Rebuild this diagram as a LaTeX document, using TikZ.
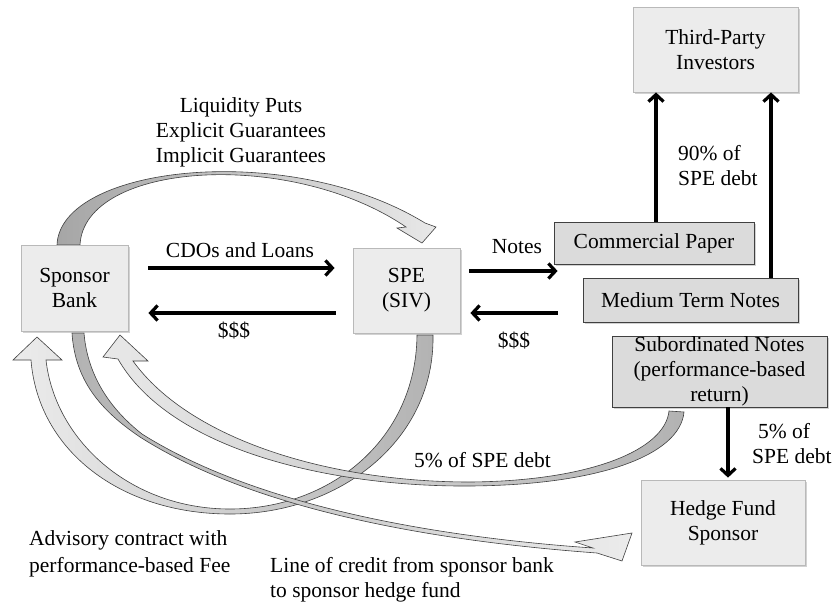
\documentclass[tikz,border=0pt]{standalone}
\usepackage{fontspec}
\setmainfont{Liberation Serif}
\usetikzlibrary{arrows.meta,shadows,backgrounds}
\begin{document}
\begin{tikzpicture}[x=1pt,y=-1pt,
  txt/.style={font=\fontsize{21.5}{24.8}\selectfont, inner sep=0pt},
  shd/.style={drop shadow={shadow xshift=1.5pt,shadow yshift=-1.5pt,fill=gray!70,opacity=0.5}},
  lbox/.style={txt, draw=gray!55, fill=gray!15, line width=0.8pt, align=center, shd},
  dbox/.style={txt, draw=black!75, fill=gray!28, line width=0.8pt, align=center, shd},
  arr/.style={line width=3.2pt, -{Straight Barb[length=7pt,width=15pt]}},
  band/.style={draw=black!75, line width=0.6pt}]
\useasboundingbox (0,0) rectangle (838,603);

% boxes
\node[lbox, minimum width=107pt, minimum height=86pt] (sb) at (74.5,288) {Sponsor\\Bank};
\node[lbox, minimum width=107pt, minimum height=85pt] (spe) at (406.5,290.5) {SPE\\(SIV)};
\node[dbox, minimum width=200pt, minimum height=42pt] (cp) at (654,243) {Commercial Paper};
\node[dbox, minimum width=215pt, minimum height=44pt] (mtn) at (690.5,300) {Medium Term Notes};
\node[lbox, minimum width=165pt, minimum height=85pt] (tpi) at (715.5,49.5) {Third-Party\\Investors};
\node[dbox, minimum width=215pt, minimum height=71pt] (sub) at (719.5,371.5) {Subordinated Notes\\(performance-based\\return)};
\node[lbox, minimum width=164pt, minimum height=85pt] (hfs) at (723,522.5) {Hedge Fund\\Sponsor};

% curved block arrows
\begin{scope}[on background layer]
\fill[white] (0,0) rectangle (838,603);
% top arc: Sponsor Bank -> SPE
\shadedraw[band, left color=gray!70, right color=gray!18]
 (57,245) .. controls (60,165) and (290,140) .. (425,223)
 -- (436,227) -- (422,243) -- (397,228) -- (406,227)
 .. controls (290,148) and (84,162) .. (80,245) -- cycle;
% advisory contract: SPE -> Sponsor Bank
\shadedraw[band, left color=gray!15, right color=gray!60]
 (433,335) .. controls (435,440) and (340,514) .. (230,514)
 .. controls (120,514) and (38,450) .. (31,360)
 -- (13,360) -- (37,337) -- (62,360) -- (46,360)
 .. controls (55,440) and (130,509) .. (230,509)
 .. controls (330,509) and (416,440) .. (417,335) -- cycle;
% 5% of SPE debt: Subordinated Notes -> Sponsor Bank
\shadedraw[band, left color=gray!18, right color=gray!60]
 (684,412) .. controls (680,455) and (600,485) .. (470,486)
 .. controls (330,487) and (170,450) .. (118,359)
 -- (103,357) -- (120,335) -- (148,361) -- (133,361)
 .. controls (190,440) and (330,482) .. (470,482)
 .. controls (590,481) and (665,450) .. (669,411) -- cycle;
% line of credit: Sponsor Bank -> Hedge Fund
\shadedraw[band, left color=gray!60, right color=gray!15]
 (72,333) .. controls (75,380) and (100,410) .. (140,437)
 .. controls (250,507) and (420,540) .. (597,553)
 -- (622,561) -- (632,533) -- (575,542) -- (593,548)
 .. controls (420,536) and (250,502) .. (142,434)
 .. controls (105,405) and (87,370) .. (84,333) -- cycle;
\end{scope}

% straight arrows
\draw[arr, shorten <=20pt, shorten >=18pt] ([yshift=20pt]sb.east) -- ([yshift=20pt]sb.east -| spe.west);
\draw[arr, shorten <=17pt, shorten >=20pt] ([yshift=-25pt]sb.east -| spe.west) -- ([yshift=-25pt]sb.east);
\draw[arr, shorten <=9pt, shorten >=-4pt] ([yshift=19.5pt]spe.east) -- ([yshift=19.5pt]spe.east -| cp.west);
\draw[arr, shorten <=25pt, shorten >=10pt] ([yshift=-22.5pt]spe.east -| mtn.west) -- ([yshift=-22.5pt]spe.east);
\draw[arr] ([xshift=2pt]cp.north) -- ([xshift=2pt]cp.north |- tpi.south);
\draw[arr] ([xshift=80.5pt]mtn.north) -- ([xshift=80.5pt]mtn.north |- tpi.south);
\draw[arr, shorten >=2pt] ([xshift=8.5pt]sub.south) -- ([xshift=8.5pt]sub.south |- hfs.north);

% labels
\node[txt, anchor=base] (l1) at (241,112) {Liquidity Puts};
\node[txt, anchor=base] (l2) at (241,137) {Explicit Guarantees};
\node[txt, anchor=base] (l3) at (241,162) {Implicit Guarantees};
\node[txt, anchor=base] (lcdo) at (240,257) {CDOs and Loans};
\node[txt, anchor=base] (ld1) at (234,337) {\$\$\$};
\node[txt, anchor=base] (lnotes) at (517,253) {Notes};
\node[txt, anchor=base] (ld2) at (514,347) {\$\$\$};
\node[txt, anchor=base west] (l90a) at (678,160) {90\% of};
\node[txt, anchor=base west] (l90b) at (678,185) {SPE debt};
\node[txt, anchor=base west] (l5a) at (758,438) {5\% of};
\node[txt, anchor=base west] (l5b) at (752,463) {SPE debt};
\node[txt, anchor=base west] (l5c) at (414,467) {5\% of SPE debt};
\node[txt, anchor=base west] (la1) at (29,545) {Advisory contract with};
\node[txt, anchor=base west] (la2) at (29,572) {performance-based Fee};
\node[txt, anchor=base west] (lc1) at (270,572) {Line of credit from sponsor bank};
\node[txt, anchor=base west] (lc2) at (270,597) {to sponsor hedge fund};
\end{tikzpicture}
\end{document}
